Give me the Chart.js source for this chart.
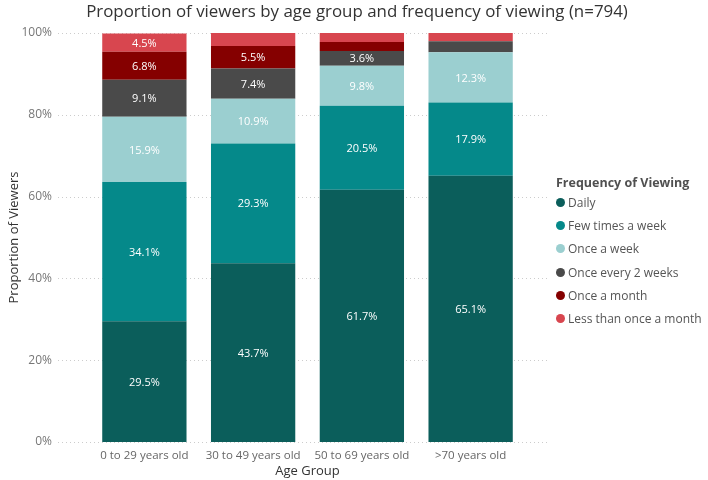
<!DOCTYPE html>
<html>
<head>
<meta charset="utf-8">
<script src="https://cdn.jsdelivr.net/npm/chart.js@4"></script>
<style>
  html, body { margin: 0; padding: 0; background: #fff; overflow: hidden; }
  #wrap { width: 708px; height: 480px; position: relative; }
  #title { position: absolute; left: 0; top: 0; width: 714px; text-align: center; font-family: "Open Sans", "Noto Sans", sans-serif; font-size: 16.9px; line-height: 22px; color: #333; white-space: nowrap; }
  #legend { position: absolute; left: 556px; top: 174px; font-family: "Open Sans", "Noto Sans", sans-serif; color: #555; }
  #legend .ttl { font-size: 12.5px; font-weight: bold; color: #505050; margin-bottom: 0px; }
  #legend .item { font-size: 12px; height: 23.2px; line-height: 23.2px; white-space: nowrap; }
  #legend .dot { display: inline-block; width: 9px; height: 9px; border-radius: 50%; margin-right: 3px; }
</style>
</head>
<body>
<div id="wrap">
  <canvas id="chart" width="708" height="480"></canvas>
  <div id="title">Proportion of viewers by age group and frequency of viewing (n=794)</div>
  <div id="legend"></div>
</div>
<script>
// ===== Data =====
const ageGroups = ['0 to 29 years old', '30 to 49 years old', '50 to 69 years old', '>70 years old'];
const seriesNames = ['Daily', 'Few times a week', 'Once a week', 'Once every 2 weeks', 'Once a month', 'Less than once a month'];
const daily        = [29.5, 43.7, 61.7, 65.1];
const fewTimesWeek = [34.1, 29.3, 20.5, 17.9];
const onceWeek     = [15.9, 10.9, 9.8, 12.3];
const every2Weeks  = [9.1, 7.4, 3.6, 2.7];
const onceMonth    = [6.8, 5.5, 2.2, 0];
const lessMonth    = [4.5, 3.2, 2.2, 2.0];
const yTicks = [0, 20, 40, 60, 80, 100];

const seriesColors = ['#0b5e5b', '#05898a', '#9bcfd0', '#4a4a4a', '#850000', '#d8464f'];
const seriesValues = [daily, fewTimesWeek, onceWeek, every2Weeks, onceMonth, lessMonth];

const FONT = '"Open Sans", "Noto Sans", sans-serif';

// ===== Dotted gridlines (run a bit past the plot on both sides) =====
const dottedGrid = {
    id: 'dottedGrid',
    beforeDatasetsDraw(chart) {
        const c = chart.ctx, y = chart.scales.y, a = chart.chartArea;
        c.save();
        c.strokeStyle = '#cccccc';
        c.lineWidth = 1;
        c.setLineDash([1, 3]);
        yTicks.forEach(v => {
            const py = Math.round(y.getPixelForValue(v)) + 0.5;
            c.beginPath();
            c.moveTo(a.left - 32, py);
            c.lineTo(a.right + 24, py);
            c.stroke();
        });
        c.restore();
    }
};

// ===== Segment labels =====
const segmentLabels = {
    id: 'segmentLabels',
    afterDatasetsDraw(chart) {
        const c = chart.ctx;
        c.save();
        c.font = '11px ' + FONT;
        c.fillStyle = '#ffffff';
        c.textAlign = 'center';
        c.textBaseline = 'middle';
        chart.data.datasets.forEach((ds, di) => {
            chart.getDatasetMeta(di).data.forEach((bar, i) => {
                const v = ds.data[i];
                if (v < 3.5) return;
                c.fillText(v.toFixed(1) + '%', bar.x, (bar.y + bar.base) / 2 + 1);
            });
        });
        c.restore();
    }
};

const ctx = document.getElementById('chart').getContext('2d');
const chart = new Chart(ctx, {
    type: 'bar',
    data: {
        labels: ageGroups,
        datasets: seriesNames.map((name, i) => ({
            label: name,
            data: seriesValues[i],
            backgroundColor: seriesColors[i],
            borderWidth: 0,
            categoryPercentage: 0.775,
            barPercentage: 1
        }))
    },
    options: {
        responsive: false,
        animation: false,
        layout: { padding: { left: 0, right: 183, top: 33, bottom: 0 } },
        plugins: {
            legend: { display: false },
            tooltip: { enabled: false }
        },
        scales: {
            x: {
                stacked: true,
                afterFit: axis => { axis.height = 38; },
                grid: { display: false, drawTicks: false },
                border: { display: false },
                ticks: { color: '#666', font: { family: FONT, size: 11.5 }, padding: 7 },
                title: { display: true, text: 'Age Group', color: '#333', font: { family: FONT, size: 13 }, padding: { top: 0, bottom: 1 } }
            },
            y: {
                stacked: true,
                min: 0,
                max: 100,
                afterBuildTicks: axis => { axis.ticks = yTicks.map(v => ({ value: v })); },
                afterFit: axis => { axis.width = 90; axis.paddingTop = 7; axis.paddingBottom = 7; },
                grid: { display: false, drawTicks: false },
                border: { display: false },
                ticks: { color: '#777', font: { family: FONT, size: 12 }, padding: 38, callback: v => v + '%' },
                title: { display: true, text: 'Proportion of Viewers', color: '#333', font: { family: FONT, size: 13 }, padding: { top: 6, bottom: 0 } }
            }
        }
    },
    plugins: [dottedGrid, segmentLabels]
});

// ===== Legend =====
document.getElementById('legend').innerHTML = '<div class="ttl">Frequency of Viewing</div>' +
    seriesNames.map((n, i) => `<div class="item"><span class="dot" style="background:${seriesColors[i]}"></span>${n}</div>`).join('');
</script>
</body>
</html>
